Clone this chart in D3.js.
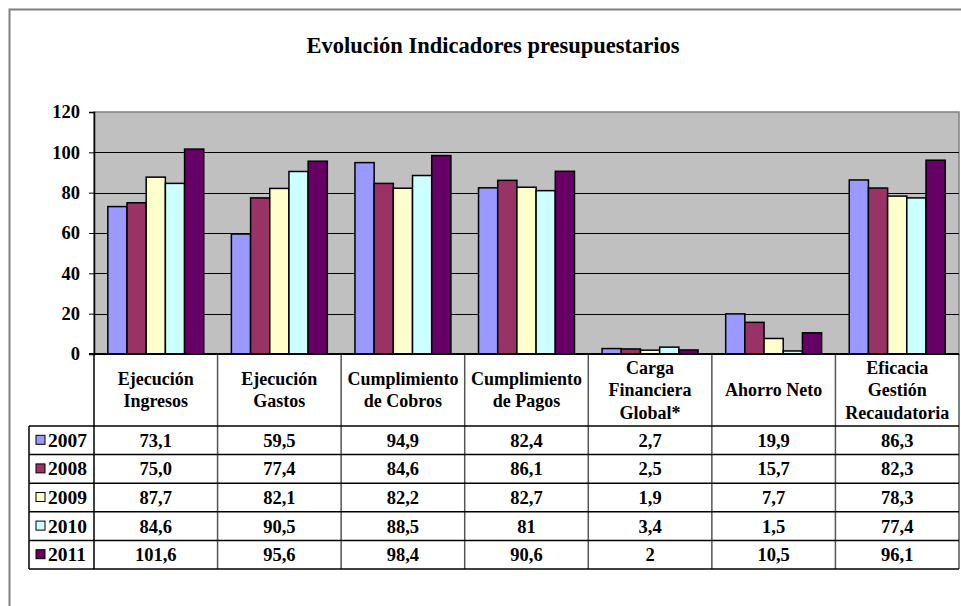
<!DOCTYPE html>
<html>
<head>
<meta charset="utf-8">
<script src="https://cdn.jsdelivr.net/npm/d3@7.9.0/dist/d3.min.js"></script>
<style>
  body { margin: 0; background: #fff; }
  svg text { font-family: "Liberation Serif", "DejaVu Serif", serif; font-weight: bold; fill: #000; }
</style>
</head>
<body>
<svg id="chart" width="961" height="606"></svg>
<script>
const categories = [
  ['Ejecución', 'Ingresos'],
  ['Ejecución', 'Gastos'],
  ['Cumplimiento', 'de Cobros'],
  ['Cumplimiento', 'de Pagos'],
  ['Carga', 'Financiera', 'Global*'],
  ['Ahorro Neto'],
  ['Eficacia', 'Gestión', 'Recaudatoria']
];
const years = ['2007', '2008', '2009', '2010', '2011'];
const colors = ['#9999FF', '#993366', '#FFFFCC', '#CCFFFF', '#660066'];
const v2007 = [73.1, 59.5, 94.9, 82.4, 2.7, 19.9, 86.3];
const v2008 = [75.0, 77.4, 84.6, 86.1, 2.5, 15.7, 82.3];
const v2009 = [87.7, 82.1, 82.2, 82.7, 1.9, 7.7, 78.3];
const v2010 = [84.6, 90.5, 88.5, 81, 3.4, 1.5, 77.4];
const v2011 = [101.6, 95.6, 98.4, 90.6, 2, 10.5, 96.1];
const labels2007 = ['73,1', '59,5', '94,9', '82,4', '2,7', '19,9', '86,3'];
const labels2008 = ['75,0', '77,4', '84,6', '86,1', '2,5', '15,7', '82,3'];
const labels2009 = ['87,7', '82,1', '82,2', '82,7', '1,9', '7,7', '78,3'];
const labels2010 = ['84,6', '90,5', '88,5', '81', '3,4', '1,5', '77,4'];
const labels2011 = ['101,6', '95,6', '98,4', '90,6', '2', '10,5', '96,1'];
const yTicks = [0, 20, 40, 60, 80, 100, 120];

const series = [v2007, v2008, v2009, v2010, v2011];
const seriesLabels = [labels2007, labels2008, labels2009, labels2010, labels2011];
const catKeys = categories.map(c => c.join(' '));

const svg = d3.select('#chart');
const plotLeft = 94, plotRight = 959, plotTop = 112, plotBottom = 354;
const legendLeft = 29, tableBottom = 569;

// outer frame
svg.append('path')
  .attr('d', `M9.5,606 V9.5 H961`)
  .attr('fill', 'none').attr('stroke', '#808080').attr('stroke-width', 2);

svg.append('text')
  .attr('x', 493).attr('y', 53)
  .attr('text-anchor', 'middle')
  .attr('font-size', 22.5)
  .text('Evolución Indicadores presupuestarios');

const x = d3.scaleBand().domain(catKeys).range([plotLeft, plotRight]).padding(0);
const xs = d3.scaleBand().domain(years).range([0, x.bandwidth()]).paddingInner(0).paddingOuter(0.72);
const y = d3.scaleLinear().domain([0, 120]).range([plotBottom, plotTop]);

// plot area
svg.append('rect')
  .attr('x', plotLeft).attr('y', plotTop)
  .attr('width', plotRight - plotLeft).attr('height', plotBottom - plotTop)
  .attr('fill', '#C0C0C0').attr('stroke', '#808080').attr('stroke-width', 1.5);

svg.append('g')
  .selectAll('line')
  .data(yTicks.filter(d => d > 0 && d < 120))
  .join('line')
  .attr('x1', plotLeft).attr('x2', plotRight)
  .attr('y1', d => Math.round(y(d)) + 0.5).attr('y2', d => Math.round(y(d)) + 0.5)
  .attr('stroke', '#000').attr('stroke-width', 1.2);

// bars
years.forEach((yr, i) => {
  svg.append('g')
    .selectAll('rect')
    .data(series[i])
    .join('rect')
    .attr('x', (d, j) => x(catKeys[j]) + xs(yr))
    .attr('y', d => y(d))
    .attr('width', xs.bandwidth())
    .attr('height', d => y(0) - y(d))
    .attr('fill', colors[i])
    .attr('stroke', '#000').attr('stroke-width', 1.5);
});

// y axis
const yAxis = svg.append('g')
  .attr('transform', `translate(${plotLeft},0)`)
  .call(d3.axisLeft(y).tickValues(yTicks).tickSize(5).tickPadding(9));
yAxis.select('.domain').attr('stroke', '#000').attr('stroke-width', 1.5);
yAxis.selectAll('.tick line').attr('stroke', '#000');
yAxis.selectAll('.tick text')
  .attr('font-size', 18.5);

// data table
const rows = d3.scaleBand().domain(years).range([426, tableBottom]);
const table = svg.append('g');

// vertical lines at category boundaries
const bounds = catKeys.map(k => x(k)).concat([plotRight]);
table.selectAll('line.v')
  .data(bounds.slice(1))
  .join('line')
  .attr('x1', d => d).attr('x2', d => d)
  .attr('y1', plotBottom).attr('y2', tableBottom)
  .attr('stroke', '#555').attr('stroke-width', 1.5);
table.append('line')
  .attr('x1', plotLeft).attr('x2', plotLeft).attr('y1', plotBottom).attr('y2', tableBottom)
  .attr('stroke', '#000').attr('stroke-width', 1.5);
table.append('line')
  .attr('x1', legendLeft).attr('x2', legendLeft).attr('y1', 426).attr('y2', tableBottom)
  .attr('stroke', '#000').attr('stroke-width', 1.5);

// horizontal lines
table.selectAll('line.h')
  .data(years.map(yr => rows(yr)).concat([tableBottom]))
  .join('line')
  .attr('x1', legendLeft).attr('x2', plotRight)
  .attr('y1', d => d).attr('y2', d => d)
  .attr('stroke', '#000').attr('stroke-width', 1.5);

// bottom axis line
svg.append('line')
  .attr('x1', plotLeft - 5).attr('x2', plotRight).attr('y1', plotBottom).attr('y2', plotBottom)
  .attr('stroke', '#000').attr('stroke-width', 2);

// header
categories.forEach((lines, j) => {
  const cx = x(catKeys[j]) + x.bandwidth() / 2;
  const lh = 22.5;
  const y0 = 390 - (lines.length - 1) * lh / 2 + 6;
  lines.forEach((t, k) => {
    table.append('text')
      .attr('x', cx).attr('y', y0 + k * lh)
      .attr('text-anchor', 'middle')
      .attr('font-size', 18)
      .text(t);
  });
});

// rows
years.forEach((yr, i) => {
  const ry = rows(yr) + rows.bandwidth() / 2 + 6.5;
  table.append('rect')
    .attr('x', 36).attr('y', rows(yr) + rows.bandwidth() / 2 - 5)
    .attr('width', 9).attr('height', 9)
    .attr('fill', colors[i]).attr('stroke', '#000').attr('stroke-width', 1);
  table.append('text')
    .attr('x', 48).attr('y', ry)
    .attr('font-size', 19.5)
    .text(yr);
  table.selectAll(null)
    .data(seriesLabels[i])
    .join('text')
    .attr('x', (d, j) => x(catKeys[j]) + x.bandwidth() / 2)
    .attr('y', ry)
    .attr('text-anchor', 'middle')
    .attr('font-size', 18.5)
    .text(d => d);
});
</script>
</body>
</html>
